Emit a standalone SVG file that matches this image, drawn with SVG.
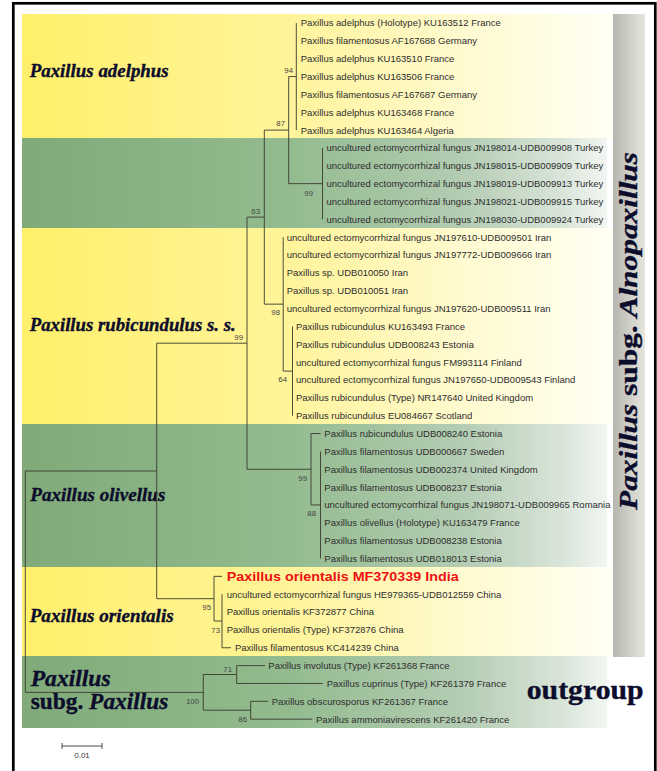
<svg xmlns="http://www.w3.org/2000/svg" width="657" height="771" viewBox="0 0 657 771">
<defs>
<linearGradient id="gY" x1="0" y1="0" x2="1" y2="0">
<stop offset="0" stop-color="#FFF06A"/><stop offset="0.45" stop-color="#FFF49A"/><stop offset="0.75" stop-color="#FFFAD0"/><stop offset="1" stop-color="#FFFFF4"/>
</linearGradient>
<linearGradient id="gG" x1="0" y1="0" x2="1" y2="0">
<stop offset="0" stop-color="#80AA78"/><stop offset="0.45" stop-color="#93BB8F"/><stop offset="0.75" stop-color="#B3CCB2"/><stop offset="0.92" stop-color="#D8E4D8"/><stop offset="1" stop-color="#F2F6F2"/>
</linearGradient>
<linearGradient id="gB" x1="0" y1="0" x2="1" y2="0">
<stop offset="0" stop-color="#B6B6B0"/><stop offset="1" stop-color="#E6E6DE"/>
</linearGradient>
<style>
.lf{font-family:"Liberation Sans",Arial,sans-serif;font-size:9.5px;fill:#2e2e2e}
.bs{font-family:"Liberation Sans",Arial,sans-serif;font-size:7.8px;fill:#444;text-anchor:end}
.cl{font-family:"Liberation Serif","Times New Roman",serif;font-weight:bold;font-style:italic;fill:#0c0c2c;stroke:#0c0c2c;stroke-width:0.35}
.br{fill:none;stroke:#3a3a30;stroke-width:0.9}
.red{font-family:"Liberation Sans",Arial,sans-serif;font-size:13.5px;font-weight:bold;fill:#EE1111}
</style>
</defs>
<rect x="0" y="0" width="657" height="771" fill="#ffffff"/>
<rect x="13.3" y="3.3" width="642" height="790" fill="none" stroke="#000" stroke-width="2.7"/>
<g id="bands">
<rect x="22" y="14" width="591" height="124" fill="url(#gY)"/>
<rect x="22" y="138" width="585" height="90" fill="url(#gG)"/>
<rect x="22" y="228" width="591" height="196" fill="url(#gY)"/>
<rect x="22" y="424" width="585" height="143" fill="url(#gG)"/>
<rect x="22" y="567" width="591" height="89" fill="url(#gY)"/>
<rect x="22" y="656" width="585" height="72" fill="url(#gG)"/>
<rect x="613" y="14" width="32" height="643" fill="url(#gB)"/>
</g>
<g id="clade-labels">
<text class="cl" x="29.7" y="77.3" font-size="18" textLength="139" lengthAdjust="spacingAndGlyphs">Paxillus adelphus</text>
<text class="cl" x="29.7" y="331" font-size="18" textLength="206" lengthAdjust="spacingAndGlyphs">Paxillus rubicundulus s. s.</text>
<text class="cl" x="30.3" y="500.7" font-size="18" textLength="135" lengthAdjust="spacingAndGlyphs">Paxillus olivellus</text>
<text class="cl" x="29.7" y="621.7" font-size="18" textLength="144" lengthAdjust="spacingAndGlyphs">Paxillus orientalis</text>
<text class="cl" x="30.7" y="686" font-size="23" textLength="80" lengthAdjust="spacingAndGlyphs">Paxillus</text>
<text class="cl" x="30.7" y="708.7" font-size="23" textLength="137.6" lengthAdjust="spacingAndGlyphs"><tspan font-style="normal">subg. </tspan>Paxillus</text>
<text x="526.7" y="699.3" font-family="Liberation Serif,'Times New Roman',serif" font-weight="bold" font-size="28" fill="#0c0c2c" stroke="#0c0c2c" stroke-width="0.35" textLength="117" lengthAdjust="spacingAndGlyphs">outgroup</text>
<text class="cl" transform="translate(637,510) rotate(-90)" x="0" y="0" font-size="25" textLength="358" lengthAdjust="spacingAndGlyphs">Paxillus <tspan font-style="normal">subg. </tspan>Alnopaxillus</text>
</g>
<g id="connectors">
<path class="br" d="M296.3,23V130.1M288.7,76.55H296.3"/>
<path class="br" d="M322.5,147.95V219.35M288.7,183.65H322.5"/>
<path class="br" d="M288.7,76.55V183.65M264.3,130.1H288.7"/>
<path class="br" d="M292.5,326.45V415.7M283.2,371.1H292.5"/>
<path class="br" d="M283.2,237.2V371.1M264.3,304.15H283.2"/>
<path class="br" d="M264.3,130.1V304.15M247,217.1H264.3"/>
<path class="br" d="M320.5,451.4V558.5M311,504.95H320.5M311,433.55H320.5"/>
<path class="br" d="M311,433.55V504.95M247,469.25H311"/>
<path class="br" d="M247,217.1V469.25M156.7,343.2H247"/>
<path class="br" d="M222,594.2V647.75M222,647.75H231M214,621H222M214,576.35H222"/>
<path class="br" d="M214,576.35V621M156.7,598.7H214"/>
<path class="br" d="M156.7,343.2V598.7M25.3,471H156.7"/>
<path class="br" d="M236.7,665.6V683.45M236.7,665.6H265M236.7,683.45H322.7M203.3,674.5H236.7"/>
<path class="br" d="M250.7,701.3V719.15M250.7,701.3H268.3M250.7,719.15H312.3M203.3,710.2H250.7"/>
<path class="br" d="M203.3,674.5V710.2M25.3,692.4H203.3"/>
<path class="br" d="M25.3,471V692.4"/>
</g>
<g id="support">
<text class="bs" x="293" y="73">94</text>
<text class="bs" x="285" y="126">87</text>
<text class="bs" x="313" y="195.5">99</text>
<text class="bs" x="260" y="213.5">63</text>
<text class="bs" x="280" y="315">98</text>
<text class="bs" x="243" y="339.5">99</text>
<text class="bs" x="287" y="382">64</text>
<text class="bs" x="307" y="480.5">99</text>
<text class="bs" x="316" y="516">88</text>
<text class="bs" x="211" y="610">95</text>
<text class="bs" x="220" y="633">73</text>
<text class="bs" x="232" y="672">71</text>
<text class="bs" x="199" y="704">100</text>
<text class="bs" x="247" y="722">86</text>
</g>
<g id="leaves">
<g id="t0"><text class="lf" x="300.7" y="26.4">Paxillus adelphus (Holotype) KU163512 France</text></g>
<g id="t1"><text class="lf" x="300.7" y="44.25">Paxillus filamentosus AF167688 Germany</text></g>
<g id="t2"><text class="lf" x="300.7" y="62.1">Paxillus adelphus KU163510 France</text></g>
<g id="t3"><text class="lf" x="300.7" y="79.95">Paxillus adelphus KU163506 France</text></g>
<g id="t4"><text class="lf" x="300.7" y="97.8">Paxillus filamentosus AF167687 Germany</text></g>
<g id="t5"><text class="lf" x="300.7" y="115.65">Paxillus adelphus KU163468 France</text></g>
<g id="t6"><text class="lf" x="300.7" y="133.5">Paxillus adelphus KU163464 Algeria</text></g>
<g id="t7"><text class="lf" x="326.5" y="151.35">uncultured ectomycorrhizal fungus JN198014-UDB009908 Turkey</text></g>
<g id="t8"><text class="lf" x="326.5" y="169.2">uncultured ectomycorrhizal fungus JN198015-UDB009909 Turkey</text></g>
<g id="t9"><text class="lf" x="326.5" y="187.05">uncultured ectomycorrhizal fungus JN198019-UDB009913 Turkey</text></g>
<g id="t10"><text class="lf" x="326.5" y="204.9">uncultured ectomycorrhizal fungus JN198021-UDB009915 Turkey</text></g>
<g id="t11"><text class="lf" x="326.5" y="222.75">uncultured ectomycorrhizal fungus JN198030-UDB009924 Turkey</text></g>
<g id="t12"><text class="lf" x="286.7" y="240.6">uncultured ectomycorrhizal fungus JN197610-UDB009501 Iran</text></g>
<g id="t13"><text class="lf" x="286.7" y="258.45">uncultured ectomycorrhizal fungus JN197772-UDB009666 Iran</text></g>
<g id="t14"><text class="lf" x="286.7" y="276.3">Paxillus sp. UDB010050 Iran</text></g>
<g id="t15"><text class="lf" x="286.7" y="294.15">Paxillus sp. UDB010051 Iran</text></g>
<g id="t16"><text class="lf" x="286.7" y="312">uncultured ectomycorrhizal fungus JN197620-UDB009511 Iran</text></g>
<g id="t17"><text class="lf" x="296" y="329.85">Paxillus rubicundulus KU163493 France</text></g>
<g id="t18"><text class="lf" x="296" y="347.7">Paxillus rubicundulus UDB008243 Estonia</text></g>
<g id="t19"><text class="lf" x="296" y="365.55">uncultured ectomycorrhizal fungus FM993114 Finland</text></g>
<g id="t20"><text class="lf" x="296" y="383.4">uncultured ectomycorrhizal fungus JN197650-UDB009543 Finland</text></g>
<g id="t21"><text class="lf" x="296" y="401.25">Paxillus rubicundulus (Type) NR147640 United Kingdom</text></g>
<g id="t22"><text class="lf" x="296" y="419.1">Paxillus rubicundulus EU084667 Scotland</text></g>
<g id="t23"><text class="lf" x="324.3" y="436.95">Paxillus rubicundulus UDB008240 Estonia</text></g>
<g id="t24"><text class="lf" x="324.3" y="454.8">Paxillus filamentosus UDB000667 Sweden</text></g>
<g id="t25"><text class="lf" x="324.3" y="472.65">Paxillus filamentosus UDB002374 United Kingdom</text></g>
<g id="t26"><text class="lf" x="324.3" y="490.5">Paxillus filamentosus UDB008237 Estonia</text></g>
<g id="t27"><text class="lf" x="324.3" y="508.35">uncultured ectomycorrhizal fungus JN198071-UDB009965 Romania</text></g>
<g id="t28"><text class="lf" x="324.3" y="526.2">Paxillus olivellus (Holotype) KU163479 France</text></g>
<g id="t29"><text class="lf" x="324.3" y="544.05">Paxillus filamentosus UDB008238 Estonia</text></g>
<g id="t30"><text class="lf" x="324.3" y="561.9">Paxillus filamentosus UDB018013 Estonia</text></g>
<g id="t31"><text class="red" x="226.7" y="581" textLength="232" lengthAdjust="spacingAndGlyphs">Paxillus orientalis MF370339 India</text></g>
<g id="t32"><text class="lf" x="226.7" y="597.6">uncultured ectomycorrhizal fungus HE979365-UDB012559 China</text></g>
<g id="t33"><text class="lf" x="226.7" y="615.45">Paxillus orientalis KF372877 China</text></g>
<g id="t34"><text class="lf" x="226.7" y="633.3">Paxillus orientalis (Type) KF372876 China</text></g>
<g id="t35"><text class="lf" x="235" y="651.15">Paxillus filamentosus KC414239 China</text></g>
<g id="t36"><text class="lf" x="268.3" y="669">Paxillus involutus (Type) KF261368 France</text></g>
<g id="t37"><text class="lf" x="326.7" y="686.85">Paxillus cuprinus (Type) KF261379 France</text></g>
<g id="t38"><text class="lf" x="271.7" y="704.7">Paxillus obscurosporus KF261367 France</text></g>
<g id="t39"><text class="lf" x="316" y="722.55">Paxillus ammoniavirescens KF261420 France</text></g>
</g>
<g id="scale">
<path class="br" d="M62,746H102M62,743V749M102,743V749"/>
<text x="82" y="758" font-family="Liberation Sans,Arial,sans-serif" font-size="8" fill="#333" text-anchor="middle">0.01</text>
</g>
</svg>
